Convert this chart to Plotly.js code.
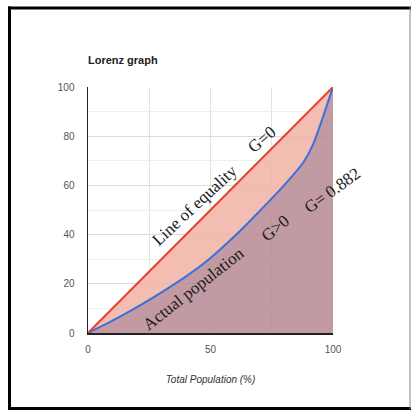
<!DOCTYPE html>
<html>
<head>
<meta charset="utf-8">
<script src="https://cdn.plot.ly/plotly-3.0.1.min.js"></script>
<style>html,body{margin:0;padding:0;background:#fff;}#chart{width:411px;height:411px;}</style>
</head>
<body>
<div id="chart"></div>
<script>
// Lorenz curve data (population %, income %)
const equalityX = [0, 100];
const equalityY = [0, 100];
const lorenzX = [0, 10, 20, 30, 40, 50, 60, 70, 80, 88, 92, 100];
const lorenzY = [0, 5, 10.5, 16.5, 23, 30.5, 39.5, 49.5, 60, 69.5, 77, 100];
const xTicks = [0, 50, 100];
const yTicks = [0, 20, 40, 60, 80, 100];
const labels = ["Line of equality", "G=0", "Actual population", "G>0", "G= 0.882"];
const labelX = [43.4, 71, 43.2, 76.3, 99.6];
const labelY = [52, 78.5, 18.1, 42.6, 58];
const labelAngle = [-43, -40, -38, -40, -36];

const traces = [
  {x: lorenzX, y: lorenzY, mode: 'lines', fill: 'tozeroy',
   fillcolor: 'rgba(184,137,149,0.86)', line: {color: '#3b6fdc', width: 2, shape: 'spline', smoothing: 0.6}, hoverinfo: 'skip'},
  {x: equalityX, y: equalityY, mode: 'lines', fill: 'tonexty',
   fillcolor: 'rgba(242,178,165,0.86)', line: {color: '#e5432a', width: 2}, hoverinfo: 'skip'}
];

const L = 88, R = 78, T = 87, B = 78, W = 411, H = 411;
const pw = W - L - R, ph = H - T - B;
const px = v => (v - L) / pw;
const py = v => (H - B - v) / ph;

const annotations = labels.map((t, i) => ({
  x: labelX[i], y: labelY[i], xref: 'x', yref: 'y', text: t, showarrow: false,
  textangle: labelAngle[i], font: {family: 'Liberation Serif, Times New Roman, serif', size: 17, color: '#1a1a1a'}
}));

const shapes = [
  {type: 'line', xref: 'paper', yref: 'paper', x0: px(9.5), x1: px(9.5), y0: py(409), y1: py(6.5), line: {color: '#000', width: 3}},
  {type: 'line', xref: 'paper', yref: 'paper', x0: px(8), x1: px(411), y0: py(8), y1: py(8), line: {color: '#000', width: 3}},
  {type: 'line', xref: 'paper', yref: 'paper', x0: px(8), x1: px(411), y0: py(408.5), y1: py(408.5), line: {color: '#000', width: 3}},
  {type: 'line', xref: 'paper', yref: 'paper', x0: px(410), x1: px(410), y0: py(409), y1: py(7), line: {color: '#888', width: 1}}
];

const layout = {
  width: W, height: H,
  margin: {l: L, r: R, t: T, b: B},
  paper_bgcolor: '#fff', plot_bgcolor: '#fff',
  showlegend: false,
  title: {text: '<b>Lorenz graph</b>', x: 88 / 411, xanchor: 'left', xref: 'container',
          y: 1 - 60 / 411, yanchor: 'middle', yref: 'container',
          font: {family: 'Liberation Sans, Arial, sans-serif', size: 11, color: '#222'}},
  xaxis: {range: [0, 100], tickvals: xTicks, ticktext: xTicks.map(String),
          showgrid: true, gridcolor: '#e3e3e3', gridwidth: 1,
          minor: {tickvals: [25, 75], showgrid: true, gridcolor: '#e3e3e3', gridwidth: 1},
          zeroline: false, showline: true, linecolor: '#222', linewidth: 1.5,
          ticks: 'outside', ticklen: 6, tickcolor: 'rgba(0,0,0,0)',
          tickfont: {family: 'Liberation Sans, Arial, sans-serif', size: 10, color: '#555'},
          title: {text: '<i>Total Population (%)</i>', standoff: 22,
                  font: {family: 'Liberation Sans, Arial, sans-serif', size: 10, color: '#333'}},
          fixedrange: true},
  yaxis: {range: [0, 100], tickvals: yTicks, ticktext: yTicks.map(String),
          showgrid: true, gridcolor: '#dcdcdc', gridwidth: 1,
          minor: {dtick: 10, showgrid: true, gridcolor: '#eeeeee', gridwidth: 1},
          zeroline: false, showline: true, linecolor: '#222', linewidth: 1.5,
          ticks: 'outside', ticklen: 10, tickcolor: 'rgba(0,0,0,0)',
          tickfont: {family: 'Liberation Sans, Arial, sans-serif', size: 10, color: '#555'},
          fixedrange: true},
  annotations: annotations,
  shapes: shapes
};

Plotly.newPlot('chart', traces, layout, {displayModeBar: false, staticPlot: true});
</script>
</body>
</html>
